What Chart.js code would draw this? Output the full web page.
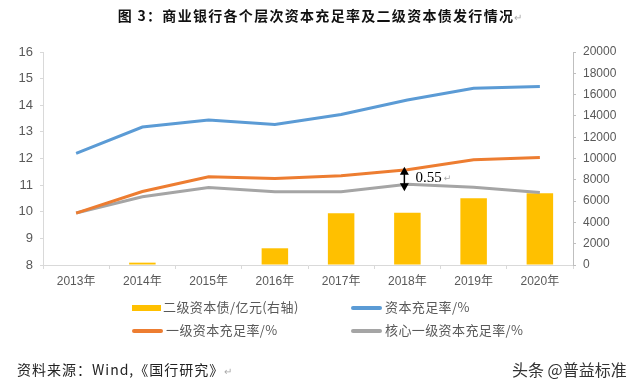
<!DOCTYPE html>
<html>
<head>
<meta charset="utf-8">
<script src="https://cdn.jsdelivr.net/npm/chart.js@4.4.1/dist/chart.umd.min.js"></script>
<style>
  body { margin: 0; background: #fff; }
  #wrap { position: relative; width: 640px; height: 387px; overflow: hidden; font-family: 'Noto Sans CJK SC', sans-serif; }
  #c { position: absolute; left: 0; top: 0; }
  .title { position: absolute; left: 0; top: 5px; width: 640px; text-align: center; font-weight: bold; font-size: 14px; letter-spacing: 1.3px; color: #111; }
  .mark { color: #aaa; font-weight: normal; font-size: 10px; letter-spacing: 0; }
  .leg { position: absolute; font-size: 13px; color: #595959; letter-spacing: 0.4px; line-height: 16px; white-space: nowrap; }
  .sw { position: absolute; }
  .src { position: absolute; left: 17px; top: 359px; font-size: 14px; letter-spacing: 1px; color: #222; }
  .wm { position: absolute; left: 512px; top: 357px; font-size: 16px; color: #333; }
</style>
</head>
<body>
<div id="wrap">
  <canvas id="c" width="640" height="387"></canvas>
  <div class="title">图 3：商业银行各个层次资本充足率及二级资本债发行情况<span class="mark">↵</span></div>
  <div id="legend"></div>
  <div class="src">资料来源：Wind,《国行研究》<span class="mark">↵</span></div>
  <div class="wm">头条 @普益标准</div>
</div>
<script>
const years = ['2013年', '2014年', '2015年', '2016年', '2017年', '2018年', '2019年', '2020年'];
const bonds = [0, 220, 0, 1570, 4860, 4910, 6260, 6730];
const car = [12.19, 13.18, 13.45, 13.28, 13.65, 14.20, 14.64, 14.70];
const tier1 = [9.95, 10.76, 11.31, 11.25, 11.35, 11.58, 11.95, 12.04];
const core = [9.95, 10.56, 10.91, 10.75, 10.75, 11.03, 10.92, 10.72];
const seriesNames = ['二级资本债/亿元(右轴)', '资本充足率/%', '一级资本充足率/%', '核心一级资本充足率/%'];
const seriesColors = ['#FFC000', '#5B9BD5', '#ED7D31', '#A5A5A5'];
const arrowAt = 5;

const tickFont = { family: "'Liberation Sans', 'Noto Sans CJK SC', sans-serif", size: 13 };

const gapArrow = {
  id: 'gapArrow',
  afterDatasetsDraw(chart) {
    const { ctx, scales } = chart;
    const x = scales.x.getPixelForValue(arrowAt) - 3;
    const yTop = scales.y.getPixelForValue(tier1[arrowAt]) - 3;
    const yBot = scales.y.getPixelForValue(core[arrowAt]) + 7;
    ctx.save();
    ctx.strokeStyle = '#000';
    ctx.fillStyle = '#000';
    ctx.lineWidth = 1.5;
    ctx.beginPath();
    ctx.moveTo(x, yTop + 6);
    ctx.lineTo(x, yBot - 6);
    ctx.stroke();
    ctx.beginPath();
    ctx.moveTo(x, yTop);
    ctx.lineTo(x - 4.5, yTop + 8);
    ctx.lineTo(x + 4.5, yTop + 8);
    ctx.closePath();
    ctx.fill();
    ctx.beginPath();
    ctx.moveTo(x, yBot);
    ctx.lineTo(x - 4.5, yBot - 8);
    ctx.lineTo(x + 4.5, yBot - 8);
    ctx.closePath();
    ctx.fill();
    ctx.font = "15px 'Liberation Serif', serif";
    ctx.textBaseline = 'middle';
    const label = (tier1[arrowAt] - core[arrowAt]).toFixed(2);
    ctx.fillText(label, x + 11, (yTop + yBot) / 2 - 1);
    const w = ctx.measureText(label).width;
    ctx.fillStyle = '#aaa';
    ctx.font = "9px 'DejaVu Sans', sans-serif";
    ctx.fillText('↵', x + 13 + w, (yTop + yBot) / 2);
    ctx.restore();
  }
};

const ctx = document.getElementById('c');
const chart = new Chart(ctx, {
  data: {
    labels: years,
    datasets: [
      {
        type: 'bar',
        label: seriesNames[0],
        data: bonds,
        backgroundColor: seriesColors[0],
        yAxisID: 'y2',
        barPercentage: 0.4,
        categoryPercentage: 1,
        order: 5
      },
      {
        type: 'line',
        label: seriesNames[1],
        data: car,
        borderColor: seriesColors[1],
        borderWidth: 3,
        pointRadius: 0,
        tension: 0,
        yAxisID: 'y',
        order: 1
      },
      {
        type: 'line',
        label: seriesNames[2],
        data: tier1,
        borderColor: seriesColors[2],
        borderWidth: 3,
        pointRadius: 0,
        tension: 0,
        yAxisID: 'y',
        order: 2
      },
      {
        type: 'line',
        label: seriesNames[3],
        data: core,
        borderColor: seriesColors[3],
        borderWidth: 3,
        pointRadius: 0,
        tension: 0,
        yAxisID: 'y',
        order: 3
      }
    ]
  },
  options: {
    responsive: false,
    animation: false,
    layout: { padding: { top: 52, left: 0, right: 0, bottom: 100 } },
    plugins: {
      legend: { display: false },
      tooltip: { enabled: false }
    },
    scales: {
      x: {
        offset: true,
        grid: { drawOnChartArea: false, color: '#d9d9d9', tickLength: 4 },
        border: { color: '#d9d9d9' },
        ticks: { color: '#595959', font: { family: tickFont.family, size: 12 }, padding: 5, maxRotation: 0 },
        afterFit(scale) { scale.height = 22; }
      },
      y: {
        position: 'left',
        min: 8,
        max: 16,
        ticks: { stepSize: 1, color: '#595959', font: tickFont, padding: 7 },
        grid: { drawOnChartArea: false, color: '#d9d9d9', tickLength: 3 },
        border: { color: '#d9d9d9' },
        afterFit(scale) { scale.width = 43; }
      },
      y2: {
        position: 'right',
        min: 0,
        max: 20000,
        ticks: {
          stepSize: 2000,
          color: '#595959',
          font: { family: tickFont.family, size: 12 },
          padding: 7,
          callback: v => String(v)
        },
        grid: { drawOnChartArea: false, color: '#bfbfbf', tickLength: 3 },
        border: { color: '#bfbfbf' },
        afterFit(scale) { scale.width = 67; }
      }
    }
  },
  plugins: [gapArrow]
});

// legend built from the chart's own datasets, two per row
const legendPos = [
  { x: 132, y: 308 }, { x: 351, y: 308 },
  { x: 132, y: 331 }, { x: 351, y: 331 }
];
const legendEl = document.getElementById('legend');
chart.data.datasets.forEach((ds, i) => {
  const p = legendPos[i];
  const sw = document.createElement('div');
  sw.className = 'sw';
  if (ds.type === 'bar') {
    sw.style.cssText = `left:${p.x}px;top:${p.y - 3}px;width:29px;height:6px;background:${ds.backgroundColor};`;
  } else {
    sw.style.cssText = `left:${p.x}px;top:${p.y - 2}px;width:31px;height:4px;border-radius:2px;background:${ds.borderColor};`;
  }
  legendEl.appendChild(sw);
  const t = document.createElement('div');
  t.className = 'leg';
  t.style.left = (p.x + (ds.type === 'bar' ? 31 : 34)) + 'px';
  t.style.top = (p.y - 9) + 'px';
  t.textContent = ds.label;
  legendEl.appendChild(t);
});
</script>
</body>
</html>
